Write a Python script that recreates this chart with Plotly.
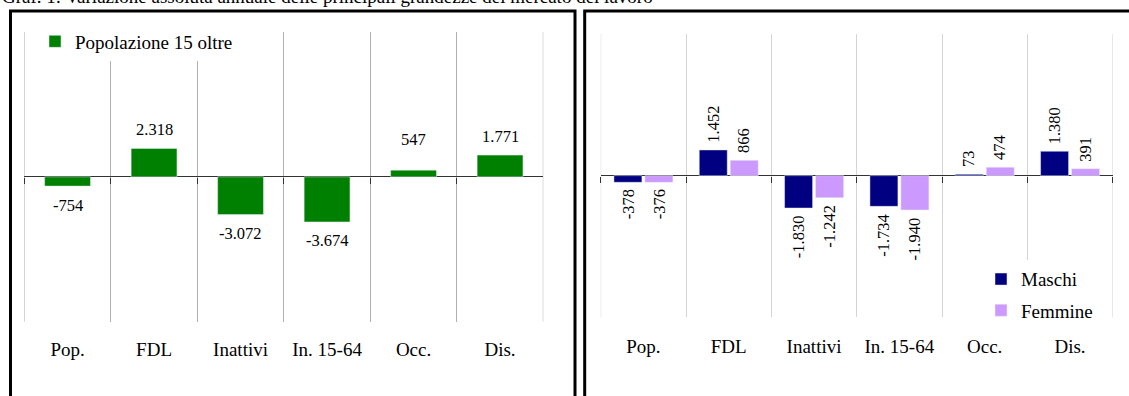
# %% Imports
import plotly.graph_objects as go

# %% Data
categories = ["Pop.", "FDL", "Inattivi", "In. 15-64", "Occ.", "Dis."]
totale = [-754, 2318, -3072, -3674, 547, 1771]
maschi = [-378, 1452, -1830, -1734, 73, 1380]
femmine = [-376, 866, -1242, -1940, 474, 391]

title = ("Graf. 1: Variazione assoluta annuale delle principali grandezze "
         "del mercato del lavoro")

W, H = 1129, 396
FONT = "Liberation Serif"


# %% helper functions
def fmt(v):
    # italian thousands separator
    return "{:,}".format(v).replace(",", ".")


def px_x(p):
    return p / W


def px_y(p):
    return 1 - p / H


# %% Figure
fig = go.Figure()

# left panel: totale
fig.add_trace(go.Bar(x=categories, y=totale, name="Popolazione 15 oltre",
                     marker={"color": "#008000"}, width=0.53,
                     xaxis="x", yaxis="y", legend="legend",
                     hoverinfo="skip"))

# right panel: maschi / femmine
bw = 0.328
off_m, off_f = -0.345, 0.018
fig.add_trace(go.Bar(x=categories, y=maschi, name="Maschi",
                     marker={"color": "#000080"}, width=bw, offset=off_m,
                     xaxis="x2", yaxis="y2", legend="legend2",
                     legendgroup="m", hoverinfo="skip"))
fig.add_trace(go.Bar(x=categories, y=femmine, name="Femmine",
                     marker={"color": "#CC99FF"}, width=bw, offset=off_f,
                     xaxis="x2", yaxis="y2", legend="legend2",
                     legendgroup="f", hoverinfo="skip"))

# invisible helpers so the tick axes at zero get drawn
for xa, ya in (("x3", "y"), ("x4", "y2")):
    fig.add_trace(go.Scatter(x=categories, y=[0] * len(categories),
                             xaxis=xa, yaxis=ya, mode="markers",
                             marker={"opacity": 0}, showlegend=False,
                             hoverinfo="skip"))

# %% data labels
ann = []
nudge = {"Occ.": 12}
for i, (c, v) in enumerate(zip(categories, totale)):
    sh = 19 + nudge.get(c, 0)
    ann.append(dict(x=c, y=v, xref="x", yref="y", text=fmt(v),
                    showarrow=False, yanchor="middle",
                    yshift=sh if v > 0 else -sh,
                    font={"family": FONT, "size": 16.5, "color": "black"}))

for vals, off in ((maschi, off_m), (femmine, off_f)):
    for i, v in enumerate(vals):
        ann.append(dict(x=i + off + bw / 2, y=v, xref="x2", yref="y2",
                        text=fmt(v), showarrow=False, textangle=-90,
                        yanchor="bottom" if v > 0 else "top",
                        yshift=5 if v > 0 else -5,
                        font={"family": FONT, "size": 16.5,
                              "color": "black"}))

# chart title, mostly cut off at the top edge
ann.append(dict(x=0, y=px_y(9), xref="paper", yref="paper", text=title,
                showarrow=False, xanchor="left", yanchor="bottom",
                font={"family": FONT, "size": 19, "color": "black"}))

# %% panel borders + outer gridlines
shapes = [
    dict(type="rect", xref="paper", yref="paper",
         x0=px_x(10.5), x1=px_x(575), y0=px_y(420), y1=px_y(11),
         line={"color": "black", "width": 3}),
    dict(type="rect", xref="paper", yref="paper",
         x0=px_x(584.7), x1=px_x(1150), y0=px_y(420), y1=px_y(11),
         line={"color": "black", "width": 3}),
]
for xr, yr, col in (("x", "y domain", "#B0B0B0"),
                    ("x2", "y2 domain", "#D4D4D4")):
    for xe in (-0.5, len(categories) - 0.5):
        shapes.append(dict(type="line", xref=xr, yref=yr, x0=xe, x1=xe,
                           y0=0, y1=1, layer="below",
                           line={"color": col, "width": 1}))

# %% axes
cat_axis = dict(type="category", categoryarray=categories,
                range=[-0.5, 5.5], tickson="boundaries", ticks="",
                showline=False, zeroline=False, fixedrange=True,
                tickfont={"family": FONT, "size": 19, "color": "black"},
                ticklabelstandoff=14)
tick_axis = dict(type="category", categoryarray=categories,
                 range=[-0.5, 5.5], tickson="boundaries", ticks="outside",
                 ticklen=6, tickcolor="#333333", showticklabels=False,
                 showgrid=False, showline=False, zeroline=False,
                 anchor="free", side="bottom")
val_axis = dict(showticklabels=False, showgrid=False, zeroline=True,
                zerolinecolor="#333333", zerolinewidth=1, ticks="",
                fixedrange=True)

fig.update_layout(
    width=W, height=H,
    margin={"l": 0, "r": 0, "t": 0, "b": 0},
    paper_bgcolor="white", plot_bgcolor="white",
    font={"family": FONT, "color": "black"},
    barmode="overlay",
    hovermode=False,
    xaxis=dict(cat_axis, domain=[px_x(24.3), px_x(543.3)], anchor="y",
               showgrid=True, gridcolor="#B0B0B0", gridwidth=1),
    yaxis=dict(val_axis, domain=[px_y(321.7), px_y(32)],
               range=[-11800, 11800], anchor="x"),
    xaxis2=dict(cat_axis, domain=[px_x(600.7), px_x(1112.7)], anchor="y2",
                showgrid=True, gridcolor="#D4D4D4", gridwidth=1,
                ticklabelstandoff=16),
    yaxis2=dict(val_axis, domain=[px_y(317.3), px_y(34)],
                range=[-8000, 8000], anchor="x2"),
    xaxis3=dict(tick_axis, overlaying="x", position=px_y(176.6)),
    xaxis4=dict(tick_axis, overlaying="x2", position=px_y(175.7)),
    legend=dict(x=px_x(35), y=px_y(41.5), xanchor="left", yanchor="middle",
                bgcolor="white", borderwidth=0,
                font={"family": FONT, "size": 19, "color": "black"}),
    legend2=dict(x=px_x(981), y=px_y(294.7), xanchor="left",
                 yanchor="middle", bgcolor="white", borderwidth=0,
                 tracegroupgap=3.5,
                 font={"family": FONT, "size": 19, "color": "black"}),
    annotations=ann,
    shapes=shapes,
    showlegend=True,
)

# drop the default page margin so the figure sits at the window corner
fig.write_html("out.html", config={"displayModeBar": False},
               post_script="document.body.style.margin = '0';")
